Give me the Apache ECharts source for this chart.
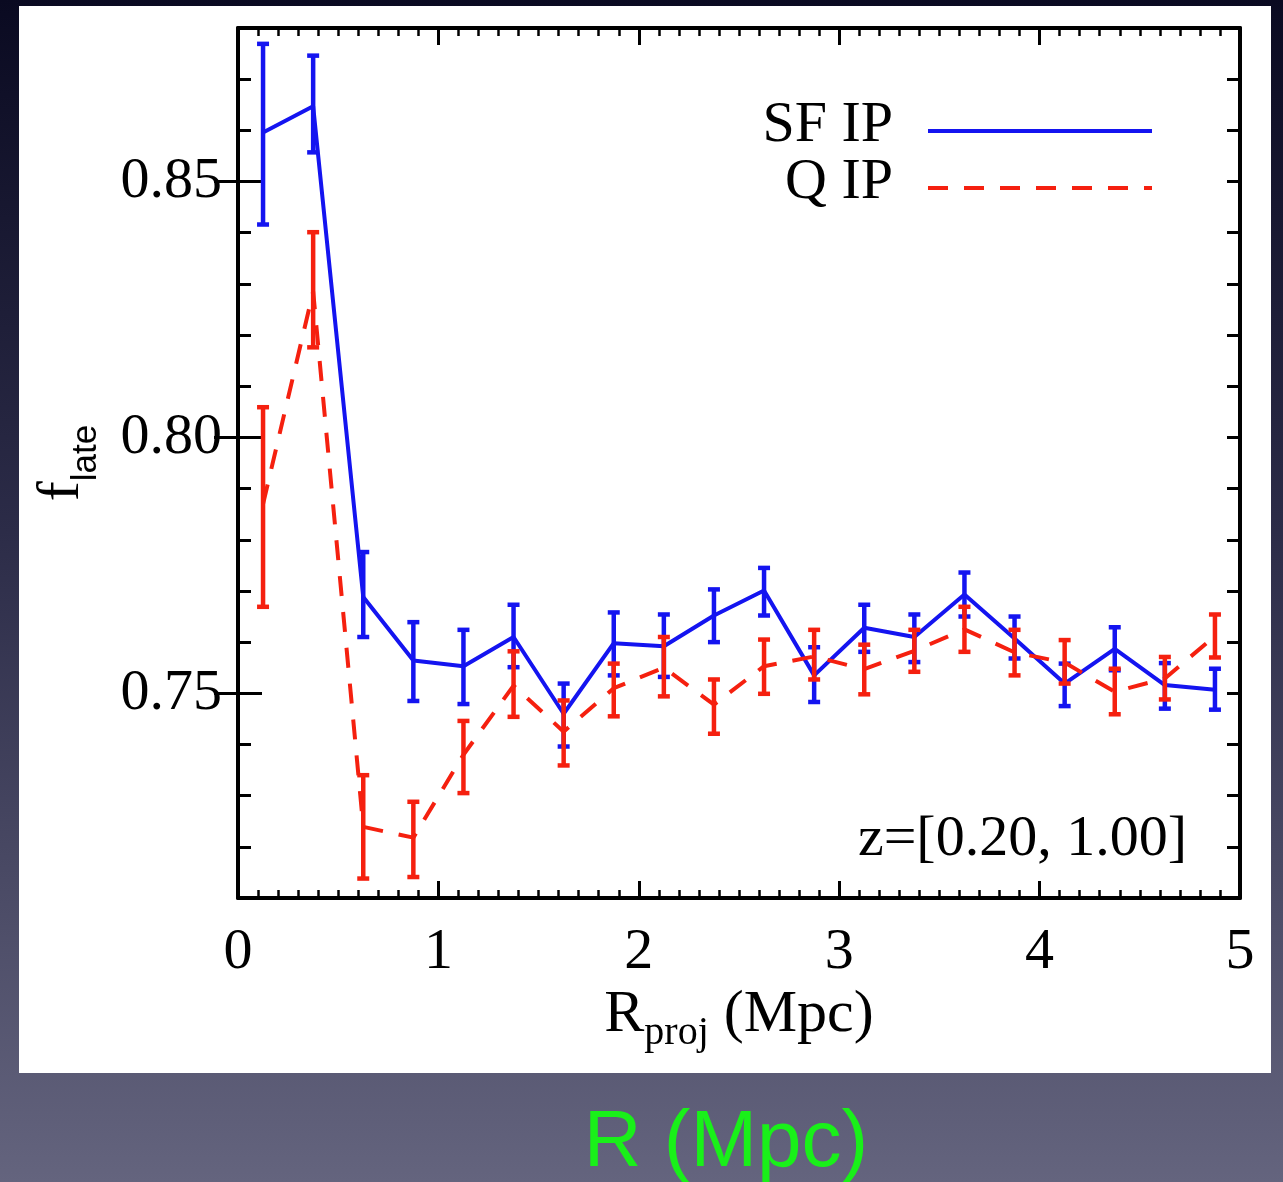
<!DOCTYPE html>
<html>
<head>
<meta charset="utf-8">
<script src="https://cdn.jsdelivr.net/npm/echarts@6/dist/echarts.min.js"></script>
<style>
  html, body { margin: 0; padding: 0; }
  body {
    width: 1283px; height: 1182px; overflow: hidden; position: relative;
    background: linear-gradient(to bottom, #0a0a21 0%, #2c2c48 45%, #64647e 100%);
  }
  #paper { position: absolute; left: 19px; top: 6px; width: 1252px; height: 1067px; background: #ffffff; }
  #chart { position: absolute; left: 0; top: 0; width: 1283px; height: 1182px; }
</style>
</head>
<body>
<div id="paper"></div>
<div id="chart"></div>
<script>
// ---- data ----
const rBins = [0.125, 0.375, 0.625, 0.875, 1.125, 1.375, 1.625, 1.875, 2.125, 2.375,
               2.625, 2.875, 3.125, 3.375, 3.625, 3.875, 4.125, 4.375, 4.625, 4.875];

const sfMean = [0.8596, 0.8647, 0.7688, 0.7564, 0.7553, 0.7610, 0.7460, 0.7598, 0.7592, 0.7652,
                0.7701, 0.7535, 0.7628, 0.7610, 0.7693, 0.7607, 0.7519, 0.7587, 0.7516, 0.7507];
const sfLow  = [0.8416, 0.8557, 0.7610, 0.7485, 0.7479, 0.7551, 0.7396, 0.7535, 0.7532, 0.7600,
                0.7652, 0.7483, 0.7581, 0.7561, 0.7650, 0.7568, 0.7475, 0.7545, 0.7470, 0.7468];
const sfHigh = [0.8769, 0.8746, 0.7776, 0.7639, 0.7624, 0.7673, 0.7519, 0.7658, 0.7654, 0.7703,
                0.7745, 0.7590, 0.7673, 0.7654, 0.7736, 0.7650, 0.7558, 0.7629, 0.7559, 0.7548];

const qMean  = [0.7870, 0.8285, 0.7239, 0.7218, 0.7380, 0.7515, 0.7425, 0.7510, 0.7550, 0.7478,
                0.7553, 0.7572, 0.7547, 0.7583, 0.7625, 0.7580, 0.7560, 0.7503, 0.7529, 0.7612];
const qLow   = [0.7669, 0.8176, 0.7138, 0.7141, 0.7305, 0.7454, 0.7359, 0.7455, 0.7494, 0.7421,
                0.7499, 0.7527, 0.7498, 0.7542, 0.7581, 0.7535, 0.7519, 0.7459, 0.7488, 0.7570];
const qHigh  = [0.8059, 0.8401, 0.7340, 0.7288, 0.7446, 0.7582, 0.7486, 0.7558, 0.7610, 0.7527,
                0.7605, 0.7624, 0.7595, 0.7624, 0.7669, 0.7624, 0.7604, 0.7548, 0.7571, 0.7654];

const seriesNames = ['SF IP', 'Q IP'];
const yLabelValues = [0.75, 0.80, 0.85];
const xTickLabels = [0, 1, 2, 3, 4, 5];
const annotation = 'z=[0.20, 1.00]';
const slideCaption = 'R (Mpc)';

// ---- styles ----
const BLUE = '#1414f0';
const RED = '#f5200f';
const SERIF = '"Liberation Serif", "DejaVu Serif", serif';
const SANS = '"Liberation Sans", Arial, sans-serif';

const pairs = (xs, ys) => xs.map((x, i) => [x, ys[i]]);
const bars = (xs, lo, hi) => xs.map((x, i) => [x, lo[i], hi[i]]);

function errorBarRenderer(color) {
  return function (params, api) {
    const x = api.value(0);
    const top = api.coord([x, api.value(2)]);
    const bot = api.coord([x, api.value(1)]);
    const hw = 6;
    const style = { stroke: color, lineWidth: 4.5, fill: null };
    return {
      type: 'group',
      children: [
        { type: 'line', shape: { x1: top[0], y1: top[1], x2: bot[0], y2: bot[1] }, style },
        { type: 'line', shape: { x1: top[0] - hw, y1: top[1], x2: top[0] + hw, y2: top[1] }, style },
        { type: 'line', shape: { x1: bot[0] - hw, y1: bot[1], x2: bot[0] + hw, y2: bot[1] }, style }
      ]
    };
  };
}

const frameLine = { show: true, onZero: false, lineStyle: { color: '#000', width: 4 } };

function xAxisDef(position, withLabels) {
  const ax = {
    type: 'value', position, min: 0, max: 5, interval: 1,
    axisLine: frameLine,
    axisTick: { show: true, inside: true, length: 17, lineStyle: { color: '#000', width: 3 } },
    minorTick: { show: true, splitNumber: 10, length: 8, lineStyle: { color: '#000', width: 2.5 } },
    splitLine: { show: false }, minorSplitLine: { show: false },
    axisLabel: {
      show: withLabels, customValues: xTickLabels, margin: 26,
      fontFamily: SERIF, fontSize: 58, lineHeight: 58, color: '#000'
    }
  };
  if (withLabels) {
    Object.assign(ax, {
      name: '{a|R}{b|proj}{a| (Mpc)}',
      nameLocation: 'middle', nameGap: 79, nameMoveOverlap: false,
      nameTextStyle: {
        color: '#000',
        rich: {
          a: { fontFamily: SERIF, fontSize: 60, lineHeight: 76, color: '#000' },
          b: { fontFamily: SERIF, fontSize: 40, lineHeight: 38, verticalAlign: 'bottom', color: '#000' }
        }
      }
    });
  }
  return ax;
}

function yMinorAxis(position, withLabels) {
  const ax = {
    type: 'value', position, min: 0.71, max: 0.88, interval: 0.01,
    axisLine: frameLine,
    axisTick: { show: true, inside: true, length: 13, lineStyle: { color: '#000', width: 3 } },
    splitLine: { show: false },
    axisLabel: {
      show: withLabels, customValues: yLabelValues, margin: 16,
      formatter: v => v.toFixed(2),
      fontFamily: SERIF, fontSize: 58, color: '#000'
    }
  };
  if (withLabels) {
    Object.assign(ax, {
      name: '{f|f}{s|late}',
      nameLocation: 'middle', nameGap: 134, nameRotate: 90, nameMoveOverlap: false,
      nameTextStyle: {
        color: '#000',
        rich: {
          f: { fontFamily: SERIF, fontSize: 60, lineHeight: 84, color: '#000' },
          s: { fontFamily: SANS, fontSize: 35, lineHeight: 34, verticalAlign: 'bottom', color: '#000' }
        }
      }
    });
  }
  return ax;
}

function yMajorAxis(position) {
  return {
    type: 'value', position, min: 0.71, max: 0.88,
    axisLine: { show: false },
    axisTick: { show: true, inside: true, length: 24, customValues: yLabelValues,
                lineStyle: { color: '#000', width: 3 } },
    splitLine: { show: false },
    axisLabel: { show: false }
  };
}

const chart = echarts.init(document.getElementById('chart'), null, { renderer: 'canvas' });

chart.setOption({
  backgroundColor: 'transparent',
  animation: false,
  grid: { left: 238, right: 43, top: 28, bottom: 284, containLabel: false, outerBoundsMode: 'none' },
  xAxis: [xAxisDef('bottom', true), xAxisDef('top', false)],
  yAxis: [yMinorAxis('left', true), yMajorAxis('left'), yMinorAxis('right', false), yMajorAxis('right')],
  legend: {
    data: seriesNames,
    orient: 'vertical', align: 'right',
    right: 124, top: 92,
    itemWidth: 224, itemHeight: 20, itemGap: -1,
    selectedMode: false,
    itemStyle: { opacity: 0 },
    lineStyle: { width: 4 },
    formatter: name => '{t|' + name + '}\n{sp|}',
    textStyle: {
      fontFamily: SERIF, fontSize: 58, color: '#000', padding: [0, 30, 0, 0],
      rich: {
        t: { fontFamily: SERIF, fontSize: 58, lineHeight: 40, color: '#000' },
        sp: { fontSize: 1, lineHeight: 10 }
      }
    }
  },
  series: [
    {
      name: seriesNames[0] + ' err', type: 'custom', xAxisIndex: 0, yAxisIndex: 0,
      data: bars(rBins, sfLow, sfHigh), encode: { x: 0, y: [1, 2] },
      renderItem: errorBarRenderer(BLUE), z: 2, silent: true
    },
    {
      name: seriesNames[0], type: 'line', xAxisIndex: 0, yAxisIndex: 0,
      data: pairs(rBins, sfMean), symbol: 'none', color: BLUE,
      lineStyle: { color: BLUE, width: 4, type: 'solid' }, z: 3
    },
    {
      name: seriesNames[1] + ' err', type: 'custom', xAxisIndex: 0, yAxisIndex: 0,
      data: bars(rBins, qLow, qHigh), encode: { x: 0, y: [1, 2] },
      renderItem: errorBarRenderer(RED), z: 4, silent: true
    },
    {
      name: seriesNames[1], type: 'line', xAxisIndex: 0, yAxisIndex: 0,
      data: pairs(rBins, qMean), symbol: 'none', color: RED,
      lineStyle: { color: RED, width: 4, type: [20, 16] }, z: 5
    }
  ],
  graphic: [
    {
      type: 'text', right: 96, top: 811,
      style: { text: annotation, fontFamily: SERIF, fontSize: 58, fill: '#000' }
    },
    {
      type: 'text', x: 726, y: 1144,
      style: { text: slideCaption, fontFamily: SANS, fontSize: 80, fill: '#19f019',
               align: 'center', verticalAlign: 'middle' }
    }
  ]
});
</script>
</body>
</html>
